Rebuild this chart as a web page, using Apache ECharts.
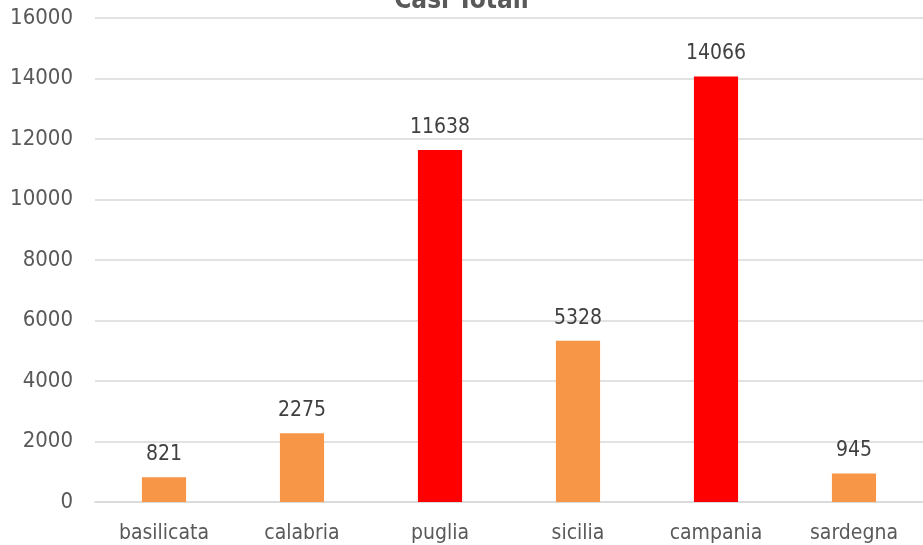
<!DOCTYPE html>
<html>
<head>
<meta charset="utf-8">
<script src="https://cdn.jsdelivr.net/npm/echarts@6/dist/echarts.min.js"></script>
<style>
  html, body { margin: 0; padding: 0; background: #fff; }
  #chart { width: 923px; height: 545px; }
</style>
</head>
<body>
<div id="chart"></div>
<script>
  var regions = ['basilicata', 'calabria', 'puglia', 'sicilia', 'campania', 'sardegna'];
  var casiTotali = [821, 2275, 11638, 5328, 14066, 945];
  var barColors = ['#F79646', '#F79646', '#FF0000', '#F79646', '#FF0000', '#F79646'];

  var font = '"DejaVu Sans Condensed", sans-serif';
  var chart = echarts.init(document.getElementById('chart'));

  chart.setOption({
    animation: false,
    title: {
      text: 'Casi Totali',
      left: 'center',
      top: -17,
      textStyle: { color: '#595959', fontSize: 26, fontWeight: 'bold', fontFamily: font }
    },
    grid: { left: 95, right: -3, top: 18, bottom: 43, containLabel: false },
    xAxis: {
      type: 'category',
      data: regions,
      axisLine: { show: true, lineStyle: { color: '#D9D9D9', width: 1.5 } },
      axisTick: { show: false },
      axisLabel: { color: '#595959', fontSize: 21, fontFamily: font, margin: 21 }
    },
    yAxis: {
      type: 'value',
      min: 0,
      max: 16000,
      interval: 2000,
      axisLine: { show: false },
      axisTick: { show: false },
      axisLabel: {
        color: '#595959', fontSize: 22, fontFamily: font, margin: 22,
        formatter: function (v) { return String(v); }
      },
      splitLine: { lineStyle: { color: '#D9D9D9', width: 1.5 } }
    },
    series: [{
      type: 'bar',
      data: casiTotali.map(function (v, i) {
        return { value: v, itemStyle: { color: barColors[i] } };
      }),
      barWidth: '32%',
      label: {
        show: true,
        position: 'top',
        distance: 12,
        color: '#404040',
        fontSize: 21,
        fontFamily: font
      }
    }]
  });
</script>
</body>
</html>
